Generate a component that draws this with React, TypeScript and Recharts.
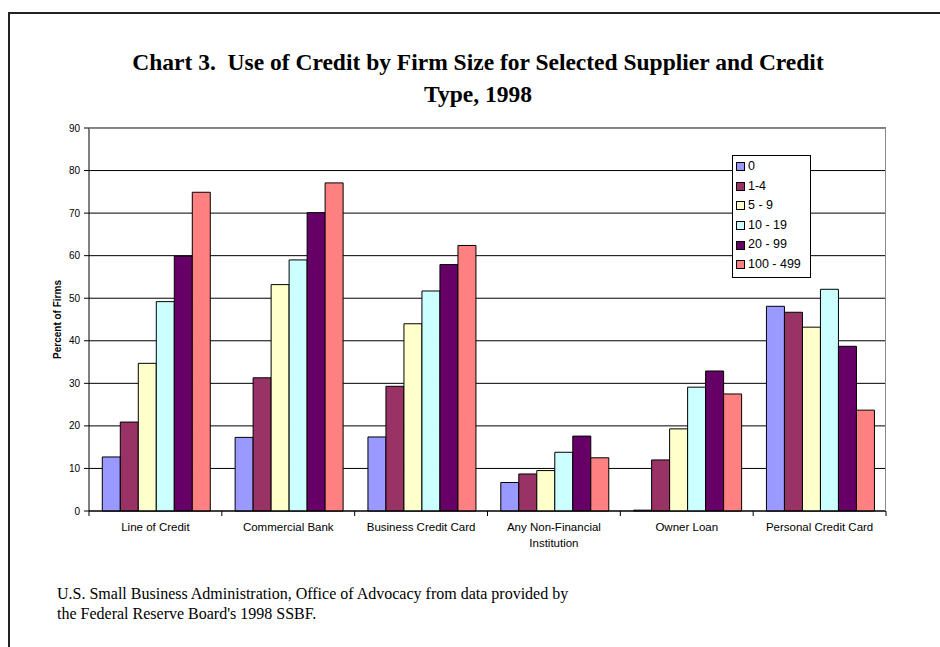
import { BarChart, Bar, XAxis, YAxis, CartesianGrid } from "recharts";

const CATEGORIES = [
  "Line of Credit",
  "Commercial Bank",
  "Business Credit Card",
  "Any Non-Financial Institution",
  "Owner Loan",
  "Personal Credit Card",
];
const SIZE_GROUPS = ["0", "1-4", "5 - 9", "10 - 19", "20 - 99", "100 - 499"];

const SIZE_0 = [12.7, 17.3, 17.4, 6.7, 0.2, 48.1];
const SIZE_1_4 = [20.9, 31.3, 29.3, 8.7, 12.0, 46.7];
const SIZE_5_9 = [34.7, 53.2, 44.0, 9.5, 19.3, 43.2];
const SIZE_10_19 = [49.2, 59.0, 51.7, 13.8, 29.1, 52.1];
const SIZE_20_99 = [59.9, 70.1, 57.9, 17.6, 32.9, 38.7];
const SIZE_100_499 = [74.9, 77.1, 62.4, 12.5, 27.5, 23.7];

const Y_TICKS = [0, 10, 20, 30, 40, 50, 60, 70, 80, 90];

const COLORS = ["#9999FF", "#993366", "#FFFFCC", "#CCFFFF", "#660066", "#FF8080"];

const SERIES = [SIZE_0, SIZE_1_4, SIZE_5_9, SIZE_10_19, SIZE_20_99, SIZE_100_499];

const data = CATEGORIES.map((name, i) => {
  const row: Record<string, string | number> = { name };
  SIZE_GROUPS.forEach((g, s) => {
    row[g] = SERIES[s][i];
  });
  return row;
});

const W = 940;
const H = 647;
const PLOT_LEFT = 89;
const PLOT_RIGHT = 886;
const PLOT_TOP = 128;
const PLOT_BOTTOM = 511;

const SANS = "'Liberation Sans', Arial, sans-serif";
const SERIF = "'Liberation Serif', 'Times New Roman', serif";

function wrapLabel(text: string) {
  if (text.length <= 20) return [text];
  const cut = text.lastIndexOf(" ");
  return [text.slice(0, cut), text.slice(cut + 1)];
}

function CategoryTick(props: any) {
  const { x, payload, index } = props;
  const half = (PLOT_RIGHT - PLOT_LEFT) / CATEGORIES.length / 2;
  const lines = wrapLabel(String(payload.value));
  return (
    <g>
      <line x1={x - half} x2={x - half} y1={PLOT_BOTTOM} y2={PLOT_BOTTOM + 5} stroke="#000" />
      {index === CATEGORIES.length - 1 && (
        <line x1={x + half} x2={x + half} y1={PLOT_BOTTOM} y2={PLOT_BOTTOM + 5} stroke="#000" />
      )}
      <text x={x} y={PLOT_BOTTOM + 20} textAnchor="middle" fontSize={11.5} fontFamily={SANS} fill="#000">
        {lines.map((l, i) => (
          <tspan key={i} x={x} dy={i === 0 ? 0 : 16}>
            {l}
          </tspan>
        ))}
      </text>
    </g>
  );
}

function LegendBox() {
  return (
    <div
      style={{
        position: "absolute",
        left: 732,
        top: 155,
        width: 74,
        border: "1px solid #000",
        background: "#fff",
        padding: "1px 0 2px 3px",
        fontFamily: SANS,
        fontSize: 12.5,
        lineHeight: "19.6px",
        color: "#000",
      }}
    >
      {SIZE_GROUPS.map((g, s) => (
        <div key={g} style={{ display: "flex", alignItems: "center" }}>
          <span
            style={{
              display: "inline-block",
              width: 7,
              height: 7,
              border: "1px solid #000",
              background: COLORS[s],
              marginRight: 3,
            }}
          />
          {g}
        </div>
      ))}
    </div>
  );
}

export default function App() {
  return (
    <div style={{ position: "absolute", left: 0, top: 0, width: W, height: H, background: "#fff", overflow: "hidden" }}>
      <div style={{ position: "absolute", left: 8, top: 12, width: W, height: H, borderTop: "2px solid #222", borderLeft: "2px solid #222" }} />
      <div
        style={{
          position: "absolute",
          left: 58,
          width: 840,
          top: 46,
          textAlign: "center",
          fontFamily: SERIF,
          fontWeight: "bold",
          fontSize: 23.5,
          lineHeight: "32px",
          color: "#000",
        }}
      >
        Chart 3.&nbsp; Use of Credit by Firm Size for Selected Supplier and Credit
        <br />
        Type, 1998
      </div>
      <div style={{ position: "absolute", left: 0, top: 0 }}>
        <BarChart
          width={W}
          height={H}
          data={data}
          margin={{ top: PLOT_TOP, right: W - PLOT_RIGHT, bottom: H - PLOT_BOTTOM - 40, left: PLOT_LEFT - 60 }}
          barGap={0}
          barCategoryGap="10%"
        >
          <CartesianGrid vertical={false} stroke="#000" strokeWidth={1} />
          <XAxis
            dataKey="name"
            height={40}
            axisLine={{ stroke: "#000" }}
            tickLine={false}
            tick={<CategoryTick />}
            interval={0}
          />
          <YAxis
            width={60}
            domain={[0, 90]}
            ticks={Y_TICKS}
            interval={0}
            axisLine={{ stroke: "#000" }}
            tickLine={{ stroke: "#000" }}
            tickSize={5}
            tickMargin={4}
            tick={{ fontSize: 10, fontFamily: SANS, fill: "#000" }}
            label={{
              value: "Percent of Firms",
              angle: -90,
              position: "insideLeft",
              offset: 28,
              style: { fontSize: 10, fontWeight: "bold", fontFamily: SANS, fill: "#000", textAnchor: "middle" },
            }}
          />
          {SIZE_GROUPS.map((g, s) => (
            <Bar key={g} dataKey={g} fill={COLORS[s]} stroke="#000" strokeWidth={1} isAnimationActive={false} />
          ))}
        </BarChart>
      </div>
      <div
        style={{
          position: "absolute",
          left: PLOT_LEFT,
          top: PLOT_TOP,
          width: PLOT_RIGHT - PLOT_LEFT,
          height: 1,
          background: "#888",
          pointerEvents: "none",
        }}
      />
      <div
        style={{
          position: "absolute",
          left: PLOT_RIGHT - 1,
          top: PLOT_TOP,
          width: 1,
          height: PLOT_BOTTOM - PLOT_TOP,
          background: "#888",
          pointerEvents: "none",
        }}
      />
      <LegendBox />
      <div
        style={{
          position: "absolute",
          left: 57,
          top: 584,
          fontFamily: SERIF,
          fontSize: 16,
          lineHeight: "20px",
          color: "#000",
        }}
      >
        U.S. Small Business Administration, Office of Advocacy from data provided by
        <br />
        the Federal Reserve Board's 1998 SSBF.
      </div>
    </div>
  );
}
